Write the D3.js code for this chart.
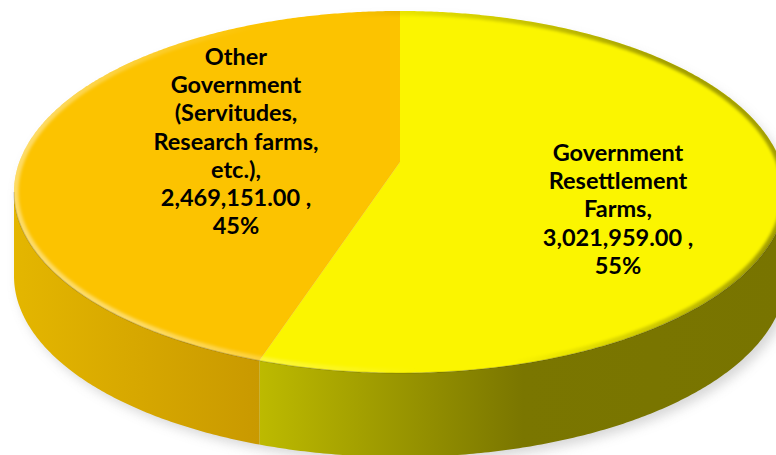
<!DOCTYPE html>
<html>
<head>
<meta charset="utf-8">
<script src="https://cdn.jsdelivr.net/npm/d3@7"></script>
<style>
  html, body { margin: 0; padding: 0; background: #fff; }
  svg { display: block; }
</style>
</head>
<body>
<svg id="chart" width="776" height="455"></svg>
<script>
// Land held by government, by category
const categories = [
  "Government Resettlement Farms",
  "Other Government (Servitudes, Research farms, etc.)"
];
const values = [3021959, 2469151];
// Category names as they wrap inside each slice
const labelLines = [
  ["Government", "Resettlement", "Farms,"],
  ["Other", "Government", "(Servitudes,", "Research farms,", "etc.),"]
];
const topColors = ["#fbf500", "#fcc300"];

const svg = d3.select("#chart");

// Tilted disc geometry: top ellipse, thickness and the perspective shift of the hub
const cx = 400, cy = 192, rx = 386, ry = 181, depth = 84, tilt = -0.166;
const k = Math.sqrt(1 - tilt * tilt);

// Projects an angle (clockwise from 12 o'clock, as d3.pie gives) onto the disc
function rim(theta, dz = 0, r = 1) {
  const x = r * Math.sin(theta), y = -r * Math.cos(theta);
  const d = 1 + tilt * y;
  return [cx + rx * x * k / d, cy + ry * (y + tilt) / d + dz];
}

const pie = d3.pie().sort(null).value(d => d);
const arcs = pie(values);
const total = d3.sum(values);
const fmtNum = d3.format(",.2f");
const fmtPct = d3.format(".0%");

const defs = svg.append("defs");
defs.append("filter").attr("id", "soft").attr("x", "-10%").attr("y", "-10%").attr("width", "120%").attr("height", "130%")
  .append("feGaussianBlur").attr("stdDeviation", 6);
defs.append("filter").attr("id", "rimblur")
  .append("feGaussianBlur").attr("stdDeviation", 1.4);

function sample(t0, t1, dz = 0) {
  const n = Math.max(2, Math.ceil(Math.abs(t1 - t0) / (Math.PI / 360)));
  return d3.range(n + 1).map(i => rim(t0 + (t1 - t0) * i / n, dz));
}
const line = d3.line();

// Visible front of the wall runs between the two side extremes of the ellipse
const tLeft = 2 * Math.PI - Math.acos(tilt);
const tRight = Math.acos(tilt);

// Soft drop shadow under the disc
svg.append("path")
  .attr("d", line(sample(tRight, tLeft, depth + 3).concat(sample(tLeft, tRight + 2 * Math.PI, 0).map(p => [p[0], p[1] + 6]))) + "Z")
  .attr("transform", "translate(5,2)")
  .attr("fill", "#9a9a9a").attr("opacity", 0.4)
  .attr("filter", "url(#soft)");

// Side wall gradients
const wallStops = [
  [["0%", "#787400"], ["50%", "#7a7600"], ["100%", "#bdba00"]],
  [["0%", "#c99900"], ["100%", "#e4b600"]]
];
arcs.forEach((a, i) => {
  const t0 = Math.max(a.startAngle, tRight), t1 = Math.min(a.endAngle, tLeft);
  if (t1 <= t0) return;
  const top = sample(t0, t1, 0), bot = sample(t1, t0, depth);
  const xs = top.map(p => p[0]);
  const g = defs.append("linearGradient").attr("id", "wall" + i)
    .attr("gradientUnits", "userSpaceOnUse")
    .attr("x1", d3.max(xs)).attr("x2", d3.min(xs)).attr("y1", 0).attr("y2", 0);
  wallStops[i].forEach(s => g.append("stop").attr("offset", s[0]).attr("stop-color", s[1]));
  svg.append("path").attr("d", line(top.concat(bot)) + "Z").attr("fill", `url(#wall${i})`);
});

// Top face slices
const topG = svg.append("g");
const hub = rim(0, 0, 0);
arcs.forEach((a, i) => {
  topG.append("path")
    .attr("d", line([hub].concat(sample(a.startAngle, a.endAngle, 0))) + "Z")
    .attr("fill", topColors[i]);
});

// Bevelled rim: light along the front, shade along the back right
defs.append("clipPath").attr("id", "topclip")
  .append("path").attr("d", line(sample(0, 2 * Math.PI, 0)) + "Z");
const rg = defs.append("linearGradient").attr("id", "rimgrad")
  .attr("gradientUnits", "userSpaceOnUse")
  .attr("x1", cx + rx * 0.7).attr("y1", cy - ry * 0.7).attr("x2", cx - rx * 0.7).attr("y2", cy + ry * 0.7);
rg.append("stop").attr("offset", "0%").attr("stop-color", "#000").attr("stop-opacity", 0.35);
rg.append("stop").attr("offset", "45%").attr("stop-color", "#000").attr("stop-opacity", 0.0);
rg.append("stop").attr("offset", "60%").attr("stop-color", "#fff").attr("stop-opacity", 0.0);
rg.append("stop").attr("offset", "100%").attr("stop-color", "#fff").attr("stop-opacity", 0.4);
svg.append("g").attr("clip-path", "url(#topclip)")
  .append("path")
  .attr("d", line(sample(0, 2 * Math.PI, 0)) + "Z")
  .attr("fill", "none").attr("stroke", "url(#rimgrad)").attr("stroke-width", 9)
  .attr("filter", "url(#rimblur)");

// Thin dark seam where the rim meets the wall
svg.append("path")
  .attr("d", line(sample(tRight, tLeft, 0)))
  .attr("fill", "none").attr("stroke", "#000").attr("stroke-opacity", 0.15).attr("stroke-width", 1.2);

// Data labels: category, value, percentage
const labelPos = [[618, 161], [236, 65]];
const lh = 28.2;
arcs.forEach((a, i) => {
  const lines = labelLines[i].concat([fmtNum(values[i]) + " ,", fmtPct(values[i] / total)]);
  const t = svg.append("text")
    .attr("text-anchor", "middle")
    .attr("font-family", "Lato, 'Open Sans', sans-serif")
    .attr("font-weight", 700)
    .attr("font-size", 23.5)
    .attr("fill", "#000");
  lines.forEach((s, j) => {
    t.append("tspan").attr("x", labelPos[i][0]).attr("y", labelPos[i][1] + j * lh).text(s);
  });
});
</script>
</body>
</html>
